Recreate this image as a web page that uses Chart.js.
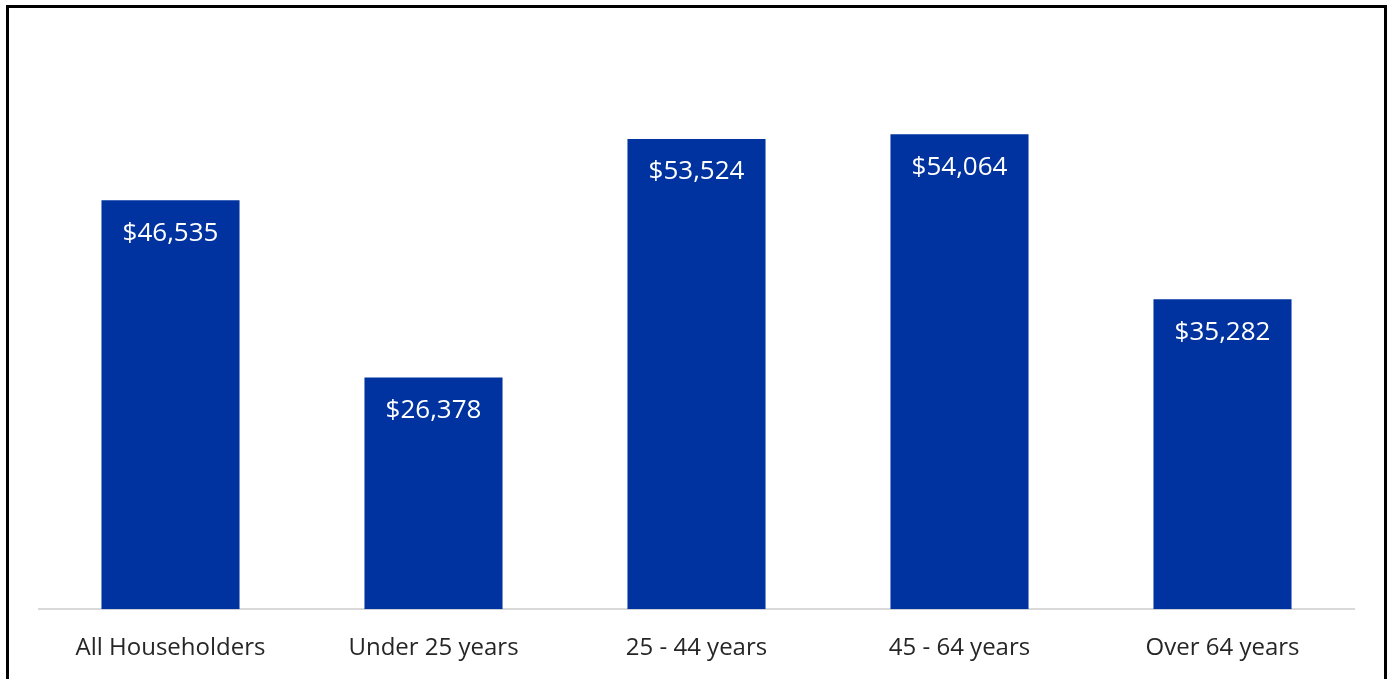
<!DOCTYPE html>
<html>
<head>
<meta charset="utf-8">
<script src="https://cdn.jsdelivr.net/npm/chart.js@4"></script>
<style>
  html, body { margin: 0; padding: 0; background: #fff; overflow: hidden; }
  #frame {
    position: absolute; left: 6px; top: 5px;
    width: 1375px; height: 700px;
    border: 3px solid #000; border-bottom: none;
  }
  #wrap { position: relative; width: 1375px; height: 680px; }
</style>
</head>
<body>
<div id="frame"><div id="wrap"><canvas id="incomeChart"></canvas></div></div>
<script>
// median household income by age of householder
const ageGroups = ['All Householders', 'Under 25 years', '25 - 44 years', '45 - 64 years', 'Over 64 years'];
const medianIncome = [46535, 26378, 53524, 54064, 35282];

const barLabels = {
  id: 'barLabels',
  afterDatasetsDraw(chart) {
    const ctx = chart.ctx;
    const meta = chart.getDatasetMeta(0);
    ctx.save();
    ctx.fillStyle = '#ffffff';
    ctx.font = '26px "Open Sans"';
    ctx.textAlign = 'center';
    ctx.textBaseline = 'middle';
    meta.data.forEach((bar, i) => {
      const txt = '$' + medianIncome[i].toLocaleString('en-US');
      ctx.fillText(txt, bar.x, bar.y + 33);
    });
    ctx.restore();
  }
};

new Chart(document.getElementById('incomeChart'), {
  type: 'bar',
  data: {
    labels: ageGroups,
    datasets: [{
      data: medianIncome,
      backgroundColor: '#0033a0',
      categoryPercentage: 1,
      barPercentage: 0.525
    }]
  },
  options: {
    responsive: true,
    maintainAspectRatio: false,
    animation: false,
    layout: { padding: { left: 30, right: 30, top: 74, bottom: 0 } },
    plugins: { legend: { display: false }, tooltip: { enabled: false } },
    scales: {
      y: { display: false, min: 0, max: 60000 },
      x: {
        grid: { display: false, drawTicks: false },
        border: { color: '#d9d9d9', width: 2 },
        ticks: {
          color: '#262626',
          padding: 25,
          font: { family: 'Open Sans', size: 24 }
        }
      }
    }
  },
  plugins: [barLabels]
});
</script>
</body>
</html>
